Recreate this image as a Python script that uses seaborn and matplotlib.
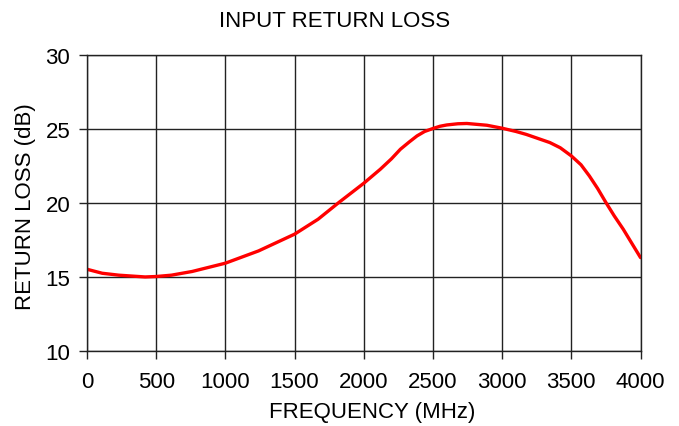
import seaborn as sns
import matplotlib.pyplot as plt
import pandas as pd

# valores
freq_mhz = [0, 110, 230, 420, 500, 610, 760, 1000, 1240, 1500, 1670, 1820,
            2000, 2120, 2200, 2265, 2330, 2385, 2440, 2500, 2550, 2600, 2680,
            2745, 2890, 3000, 3100, 3175, 3345, 3420, 3500, 3570, 3630, 3690,
            3750, 3810, 3875, 3940, 4000]
return_loss_db = [15.49, 15.22, 15.09, 14.97, 15.0, 15.09, 15.34, 15.9, 16.73,
                  17.86, 18.87, 20.0, 21.3, 22.25, 22.95, 23.6, 24.1, 24.5,
                  24.8, 25.0, 25.15, 25.24, 25.32, 25.34, 25.22, 25.02, 24.8,
                  24.6, 24.05, 23.7, 23.15, 22.55, 21.8, 20.95, 20.0, 19.1,
                  18.2, 17.2, 16.28]

x_ticks = [0, 500, 1000, 1500, 2000, 2500, 3000, 3500, 4000]
y_ticks = [10, 15, 20, 25, 30]

df = pd.DataFrame({"freq": freq_mhz, "rl": return_loss_db})

sns.set_style("white")
plt.rcParams['font.family'] = ['Liberation Sans', 'DejaVu Sans']
plt.rcParams['text.color'] = 'black'
plt.rcParams['axes.labelcolor'] = 'black'
plt.rcParams['xtick.color'] = 'black'
plt.rcParams['ytick.color'] = 'black'

fig = plt.figure(figsize=(6.79, 4.27), dpi=100)
ax = fig.add_axes([0.1281, 0.1768, 0.8152, 0.6932])

sns.lineplot(data=df, x="freq", y="rl", color="#ff0000", linewidth=2.4, ax=ax)

ax.set_xlim(0, 4000)
ax.set_ylim(10, 30)
ax.set_xticks(x_ticks)
ax.set_yticks(y_ticks)
ax.grid(True, color="#222222", linewidth=1)
ax.set_axisbelow(True)
for s in ax.spines.values():
    s.set_color("#222222")
    s.set_linewidth(1)

ax.tick_params(axis="both", direction="out", length=5.5, width=1, color="#222222",
               labelsize=16, labelcolor="black", bottom=True, left=True)
ax.tick_params(axis="x", pad=9.5)
ax.tick_params(axis="y", pad=6.5)

ax.set_xlabel("FREQUENCY (MHz)", fontsize=16, color="black")
ax.set_ylabel("RETURN LOSS (dB)", fontsize=16, color="black")
ax.xaxis.set_label_coords(0.516, -0.169)
ax.yaxis.set_label_coords(-0.093, 0.49)

fig.text(0.492, 0.936, "INPUT RETURN LOSS", fontsize=16, color="black",
         ha="center", va="baseline")

fig.savefig("out.png", dpi=100)
